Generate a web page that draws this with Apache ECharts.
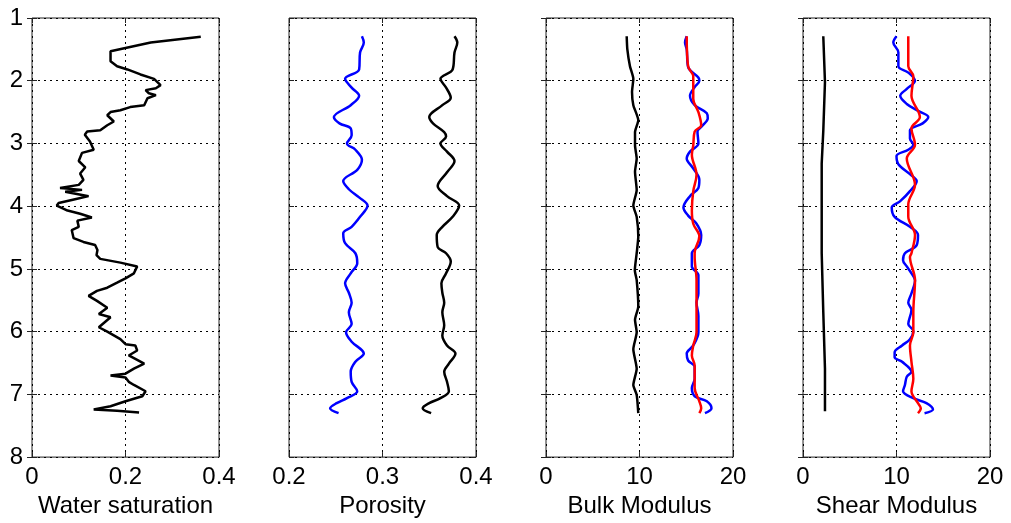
<!DOCTYPE html>
<html>
<head>
<meta charset="utf-8">
<script src="https://cdn.jsdelivr.net/npm/echarts@6/dist/echarts.min.js"></script>
<style>
  html, body { margin: 0; padding: 0; background: #fff; }
  #chart { width: 1011px; height: 523px; }
</style>
</head>
<body>
<div id="chart"></div>
<script>
// Depth track values: each entry is [depth, value]
const waterSat = [[1.30,0.361],[1.39,0.254],[1.53,0.168],[1.69,0.168],[1.77,0.182],[1.82,0.204],[1.90,0.232],[1.97,0.261],[2.07,0.275],[2.12,0.265],[2.15,0.243],[2.20,0.250],[2.23,0.265],[2.28,0.247],[2.39,0.240],[2.42,0.210],[2.47,0.189],[2.50,0.168],[2.55,0.161],[2.65,0.175],[2.71,0.161],[2.79,0.146],[2.81,0.118],[2.86,0.113],[2.97,0.124],[3.10,0.132],[3.15,0.107],[3.28,0.100],[3.38,0.114],[3.48,0.103],[3.58,0.110],[3.66,0.100],[3.71,0.060],[3.74,0.107],[3.77,0.071],[3.84,0.121],[3.89,0.092],[3.95,0.057],[3.99,0.053],[4.07,0.076],[4.12,0.103],[4.18,0.128],[4.23,0.097],[4.33,0.100],[4.38,0.085],[4.51,0.089],[4.57,0.110],[4.62,0.135],[4.70,0.140],[4.78,0.138],[4.84,0.146],[4.90,0.189],[4.96,0.225],[5.07,0.218],[5.15,0.200],[5.22,0.182],[5.30,0.161],[5.35,0.139],[5.43,0.121],[5.51,0.139],[5.62,0.161],[5.72,0.143],[5.77,0.168],[5.93,0.143],[6.00,0.161],[6.12,0.189],[6.20,0.200],[6.22,0.221],[6.30,0.225],[6.38,0.207],[6.51,0.240],[6.59,0.218],[6.67,0.200],[6.70,0.168],[6.73,0.200],[6.80,0.207],[6.85,0.218],[6.95,0.243],[7.03,0.236],[7.11,0.200],[7.19,0.168],[7.24,0.132],[7.26,0.182],[7.29,0.229]];

const porosityBlue = [[1.29,0.278],[1.39,0.280],[1.55,0.276],[1.82,0.275],[1.97,0.260],[2.11,0.267],[2.24,0.275],[2.39,0.266],[2.58,0.248],[2.68,0.254],[2.76,0.266],[2.87,0.267],[3.00,0.262],[3.10,0.271],[3.26,0.278],[3.42,0.273],[3.60,0.258],[3.73,0.264],[3.86,0.275],[3.99,0.284],[4.17,0.276],[4.33,0.267],[4.43,0.258],[4.59,0.260],[4.75,0.271],[4.91,0.273],[5.07,0.266],[5.23,0.260],[5.38,0.264],[5.54,0.267],[5.69,0.264],[5.88,0.267],[6.01,0.261],[6.16,0.267],[6.35,0.280],[6.48,0.271],[6.64,0.266],[6.80,0.267],[6.95,0.273],[7.06,0.262],[7.14,0.251],[7.22,0.244],[7.30,0.253]];

const porosityBlack = [[1.29,0.377],[1.39,0.380],[1.55,0.377],[1.82,0.375],[1.97,0.362],[2.11,0.368],[2.27,0.373],[2.39,0.364],[2.58,0.350],[2.68,0.354],[2.82,0.366],[2.89,0.368],[3.00,0.362],[3.13,0.369],[3.28,0.377],[3.46,0.369],[3.68,0.359],[3.84,0.369],[3.99,0.382],[4.17,0.375],[4.33,0.364],[4.46,0.358],[4.65,0.359],[4.75,0.368],[4.88,0.373],[5.07,0.368],[5.23,0.363],[5.38,0.364],[5.54,0.366],[5.69,0.364],[5.90,0.366],[6.06,0.364],[6.22,0.369],[6.35,0.378],[6.51,0.371],[6.64,0.366],[6.80,0.369],[6.95,0.371],[7.06,0.362],[7.14,0.350],[7.22,0.343],[7.30,0.352]];

const bulkBlack = [[1.29,8.63],[1.50,8.70],[1.77,8.98],[1.97,9.34],[2.18,9.20],[2.39,9.34],[2.63,9.87],[2.82,9.52],[3.03,9.52],[3.24,9.70],[3.45,9.52],[3.74,9.70],[3.99,9.34],[4.17,9.70],[4.48,9.87],[4.75,9.70],[5.02,9.50],[5.18,9.70],[5.60,9.87],[5.81,9.52],[6.01,9.70],[6.28,9.34],[6.59,9.70],[6.85,9.34],[7.01,9.70],[7.30,9.87]];

const bulkBlue = [[1.29,15.05],[1.39,14.87],[1.50,15.05],[1.78,15.20],[1.95,16.30],[2.00,16.40],[2.10,15.90],[2.24,15.40],[2.39,15.90],[2.52,17.20],[2.60,17.30],[2.73,16.65],[2.81,16.20],[3.00,16.30],[3.13,15.40],[3.24,15.05],[3.39,15.70],[3.58,16.40],[3.71,16.30],[3.84,15.40],[4.02,14.70],[4.15,15.20],[4.28,16.10],[4.46,16.60],[4.62,16.40],[4.75,15.60],[4.86,15.60],[4.96,15.60],[5.10,16.30],[5.39,16.30],[5.54,16.10],[5.75,16.30],[6.01,16.30],[6.22,15.75],[6.35,15.05],[6.46,15.20],[6.56,15.90],[6.75,15.90],[6.90,15.60],[7.03,15.90],[7.11,17.20],[7.22,17.70],[7.30,17.00]];

const bulkRed = [[1.29,15.05],[1.77,15.20],[1.93,15.75],[2.08,15.75],[2.29,15.75],[2.50,16.30],[2.71,16.60],[2.81,15.90],[3.03,15.75],[3.18,15.60],[3.50,16.10],[3.76,15.75],[4.07,15.60],[4.28,15.75],[4.48,16.40],[4.75,15.90],[4.81,15.90],[5.18,16.10],[5.69,16.10],[6.01,16.10],[6.22,15.75],[6.38,15.60],[6.54,15.90],[6.90,15.90],[7.11,16.40],[7.22,16.60],[7.30,16.40]];

const shearBlack = [[1.29,2.17],[2.02,2.35],[2.80,2.17],[3.32,2.00],[4.75,2.00],[5.69,2.17],[6.59,2.35],[7.27,2.35]];

const shearBlue = [[1.29,10.0],[1.39,9.66],[1.55,10.2],[1.77,10.2],[1.87,11.26],[2.00,11.98],[2.13,11.1],[2.24,10.4],[2.37,11.1],[2.48,12.3],[2.58,13.4],[2.68,12.8],[2.79,11.44],[2.92,11.44],[3.02,11.8],[3.10,11.26],[3.20,10.0],[3.33,10.2],[3.49,11.44],[3.60,12.16],[3.76,11.44],[3.92,10.4],[4.02,9.49],[4.17,9.8],[4.33,11.44],[4.46,12.3],[4.62,12.16],[4.75,10.9],[4.86,10.7],[4.96,11.1],[5.07,11.6],[5.18,11.98],[5.39,11.6],[5.54,11.26],[5.65,11.6],[5.88,11.26],[5.99,11.8],[6.12,11.44],[6.22,10.6],[6.33,9.8],[6.41,9.8],[6.48,10.6],[6.64,11.6],[6.72,11.1],[6.85,10.9],[6.95,10.7],[7.06,11.8],[7.14,13.2],[7.24,13.9],[7.30,13.0]];

const shearRed = [[1.29,11.26],[1.77,11.26],[1.93,11.8],[2.24,11.6],[2.58,12.5],[2.76,11.6],[3.02,11.98],[3.24,11.1],[3.66,11.98],[3.97,11.26],[4.17,11.26],[4.46,11.98],[4.75,11.6],[4.81,11.44],[5.18,11.98],[5.69,11.8],[6.01,11.8],[6.22,11.44],[6.48,11.6],[6.75,11.8],[6.95,11.6],[7.14,12.3],[7.22,12.6],[7.30,12.3]];

// Track definitions
const trackTitles = ['Water saturation', 'Porosity', 'Bulk Modulus', 'Shear Modulus'];
const trackRanges = [[0, 0.4, 0.2], [0.2, 0.4, 0.1], [0, 20, 10], [0, 20, 10]];
// [curve, colour, smoothing]
const trackCurves = [
  [[waterSat, '#000000', 0]],
  [[porosityBlue, '#0000ff', 0.35], [porosityBlack, '#000000', 0.35]],
  [[bulkBlack, '#000000', 0.2], [bulkBlue, '#0000ff', 0.35], [bulkRed, '#ff0000', 0.35]],
  [[shearBlack, '#000000', 0], [shearBlue, '#0000ff', 0.35], [shearRed, '#ff0000', 0.35]]
];
const depthRange = [1, 8, 1];

const FONT = '"Liberation Sans", Arial, sans-serif';
const FONT_SIZE = 24;
const trackLefts = [32, 289, 546, 803];
const dotted = { color: '#000', width: 1, type: [2, 4] };
const tickStyle = { show: true, inside: true, length: 5, lineStyle: { color: '#222' } };

const grids = [], xAxes = [], yAxes = [], series = [];
trackLefts.forEach((left, i) => {
  grids.push({ left: left, top: 18, width: 187, height: 445, show: true,
               borderColor: '#222', borderWidth: 1, backgroundColor: '#fff' });
  const [xmin, xmax, xint] = trackRanges[i];
  // bottom axis with labels and title
  xAxes.push({
    type: 'value', gridIndex: i, position: 'bottom', min: xmin, max: xmax, interval: xint,
    name: trackTitles[i], nameLocation: 'middle', nameGap: 35,
    nameTextStyle: { fontFamily: FONT, fontSize: FONT_SIZE, color: '#000' },
    axisLine: { show: false },
    axisTick: tickStyle,
    axisLabel: { fontFamily: FONT, fontSize: FONT_SIZE, color: '#000', margin: 8 },
    splitLine: { show: true, lineStyle: dotted }
  });
  // top axis: ticks only
  xAxes.push({
    type: 'value', gridIndex: i, position: 'top', min: xmin, max: xmax, interval: xint,
    axisLine: { show: false }, axisTick: tickStyle,
    axisLabel: { show: false }, splitLine: { show: false }
  });
  yAxes.push({
    type: 'value', gridIndex: i, position: 'left', inverse: true,
    min: depthRange[0], max: depthRange[1], interval: depthRange[2],
    axisLine: { show: false }, axisTick: tickStyle,
    axisLabel: { show: i === 0, fontFamily: FONT, fontSize: FONT_SIZE, color: '#000', margin: 9 },
    splitLine: { show: true, lineStyle: dotted }
  });
  yAxes.push({
    type: 'value', gridIndex: i, position: 'right', inverse: true,
    min: depthRange[0], max: depthRange[1], interval: depthRange[2],
    axisLine: { show: false }, axisTick: tickStyle,
    axisLabel: { show: false }, splitLine: { show: false }
  });
  trackCurves[i].forEach(([curve, color, smooth]) => {
    series.push({
      type: 'line', xAxisIndex: 2 * i, yAxisIndex: 2 * i,
      data: curve.map(([d, v]) => [v, d]),
      smooth: smooth || false,
      showSymbol: false, symbol: 'none', animation: false, silent: true,
      lineStyle: { color: color, width: 2.5 }
    });
  });
});

const chart = echarts.init(document.getElementById('chart'), null, { renderer: 'canvas' });
chart.setOption({
  backgroundColor: '#fff',
  animation: false,
  grid: grids, xAxis: xAxes, yAxis: yAxes, series: series
});
</script>
</body>
</html>
